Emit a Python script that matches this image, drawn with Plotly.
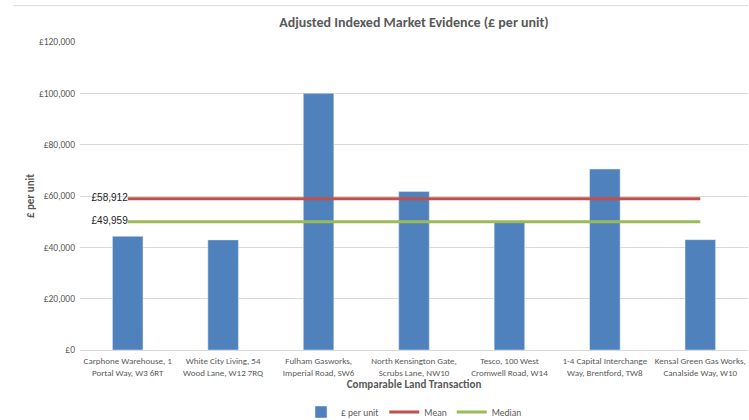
import plotly.graph_objects as go

categories = [
    "Carphone Warehouse, 1<br>Portal Way, W3 6RT",
    "White City Living, 54<br>Wood Lane, W12 7RQ",
    "Fulham Gasworks,<br>Imperial Road, SW6",
    "North Kensington Gate,<br>Scrubs Lane, NW10",
    "Tesco, 100 West<br>Cromwell Road, W14",
    "1-4 Capital Interchange<br>Way, Brentford, TW8",
    "Kensal Green Gas Works,<br>Canalside Way, W10",
]
per_unit = [44300, 42900, 100000, 61725, 49959, 70500, 43000]
mean_value = 58912
median_value = 49959
mean_label = "£58,912"
median_label = "£49,959"

FONT = "Calibri, Carlito, Lato, 'Open Sans', sans-serif"

fig = go.Figure()
fig.add_trace(go.Bar(
    x=categories, y=per_unit, name="£ per unit",
    marker=dict(color="#4F81BD"), width=0.32,
))
n = len(categories)
fig.add_trace(go.Scatter(
    x=categories, y=[mean_value] * n, name="Mean", mode="lines+text",
    line=dict(color="#C0504D", width=3),
    text=[mean_label] + [""] * (n - 1), textposition="middle left",
    textfont=dict(size=10, color="#222222", family="'Liberation Sans Narrow', Arial, sans-serif"),
))
fig.add_trace(go.Scatter(
    x=categories, y=[median_value] * n, name="Median", mode="lines+text",
    line=dict(color="#9BBB59", width=3),
    text=[median_label] + [""] * (n - 1), textposition="middle left",
    textfont=dict(size=10, color="#222222", family="'Liberation Sans Narrow', Arial, sans-serif"),
))

fig.update_layout(
    width=749, height=420,
    margin=dict(l=80, r=1, t=42, b=70),
    paper_bgcolor="white", plot_bgcolor="white",
    font=dict(family=FONT, color="#595959", size=9),
    title=dict(text="<b>Adjusted Indexed Market Evidence (£ per unit)</b>",
               x=0.5, xref="paper", y=0.948, yanchor="middle",
               font=dict(size=14, color="#595959", family=FONT)),
    showlegend=True,
    legend=dict(orientation="h", x=0.5, xanchor="center", yref="container", y=0.019, yanchor="middle",
                font=dict(size=9.5, color="#595959"), traceorder="normal"),
    xaxis=dict(
        title=dict(text="<b>Comparable Land Transaction</b>", font=dict(size=11, color="#595959"), standoff=3),
        tickfont=dict(size=9, color="#595959"), showgrid=False, automargin=False,
        showline=True, linecolor="#D9D9D9", ticks="", ticklabelstandoff=2,
    ),
    yaxis=dict(
        title=dict(text="<b>£ per unit</b>", font=dict(size=11, color="#595959"), standoff=2),
        range=[0, 120000], dtick=20000, tickprefix="£", tickformat=",d", automargin=False,
        gridcolor="#D9D9D9", gridwidth=1, zeroline=False,
        tickfont=dict(size=9.5, color="#595959"), ticks="", ticklabelstandoff=4,
    ),
    shapes=[dict(type="line", xref="paper", yref="paper", x0=-0.1, x1=1, y0=1.118, y1=1.118,
                 line=dict(color="#D9D9D9", width=1))],
    bargap=0.68,
)

fig.write_html("out.html")
